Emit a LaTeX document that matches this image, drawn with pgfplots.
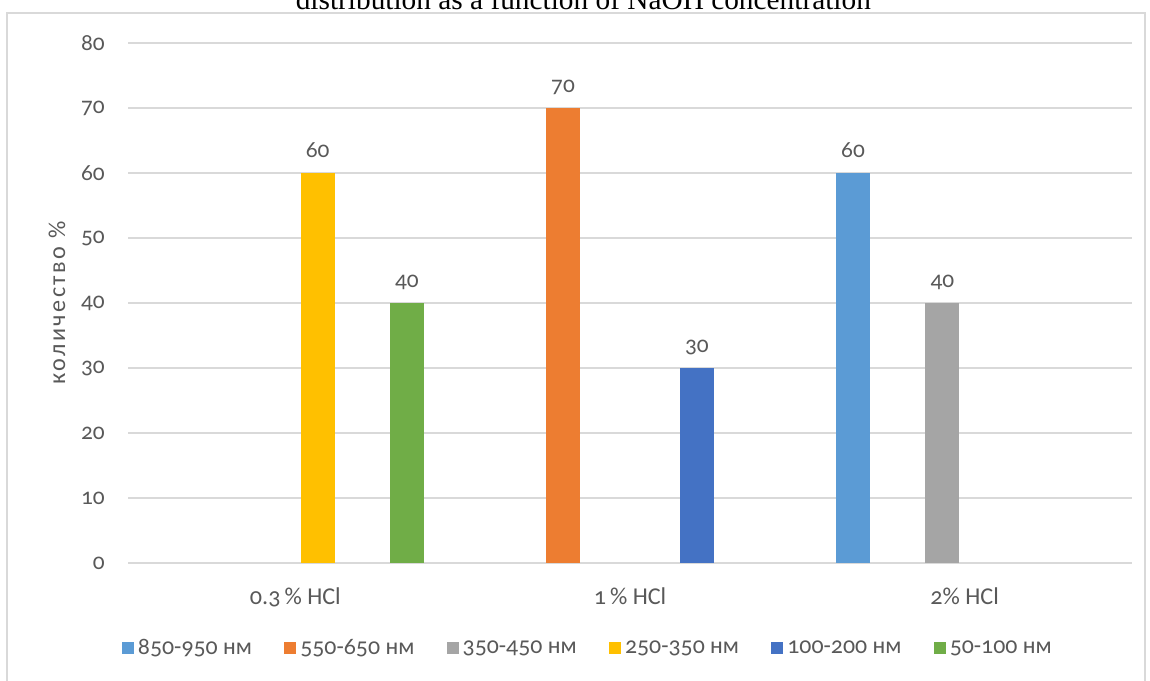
\documentclass[border=0pt]{standalone}
\usepackage{pgfplots}
\pgfplotsset{compat=1.18}
\usepackage{fontspec}
\setmainfont{Carlito}[Numbers=OldStyle]
\newfontfamily\titlefont{Liberation Serif}
\newfontfamily\widefont{Carlito}[Numbers=OldStyle, LetterSpace=10]

\definecolor{cA}{HTML}{5B9BD5}
\definecolor{cB}{HTML}{ED7D31}
\definecolor{cC}{HTML}{A5A5A5}
\definecolor{cD}{HTML}{FFC000}
\definecolor{cE}{HTML}{4472C4}
\definecolor{cF}{HTML}{70AD47}
\definecolor{txt}{HTML}{595959}
\definecolor{gridc}{HTML}{D9D9D9}

\begin{document}
\begin{tikzpicture}
\useasboundingbox (0pt,0pt) rectangle (690pt,408pt);
% chart frame
\draw[gridc, line width=1.2pt] (4pt,-10pt) rectangle (687pt,400.2pt);
% title, partly above the page
\node[anchor=base, font=\titlefont\fontsize{17.6}{20}\selectfont, text=black] at (350pt,402pt)
  {distribution as a function of NaOH concentration};
\begin{axis}[
  at={(76.8pt,70.2pt)}, anchor=south west,
  scale only axis, width=602.4pt, height=312pt,
  ybar, bar width=0.1015,
  xmin=-0.5, xmax=2.5, ymin=0, ymax=80,
  ytick={0,10,...,80},
  xtick={0,1,2},
  xticklabels={0.3\,\% HCl, 1\,\% HCl, 2\% HCl},
  major tick length=0pt,
  axis line style={draw=none},
  ymajorgrids,
  major grid style={gridc, line width=0.9pt},
  /pgf/number format/assume math mode=true,
  yticklabel style={font=\fontsize{14}{16}\selectfont, text=txt, inner sep=0pt, xshift=-13.8pt},
  xticklabel style={font=\fontsize{14.5}{16}\selectfont, text=txt, anchor=base, inner sep=0pt, yshift=-25pt},
  ylabel={количество \%},
  ylabel style={at={(axis description cs:-0.0707,0.5)}, anchor=center, font=\widefont\fontsize{14.5}{16}\selectfont, text=txt},
  nodes near coords,
  every node near coord/.append style={anchor=base, yshift=9.6pt, font=\fontsize{14}{16}\selectfont, text=txt},
  legend columns=6,
  legend style={at={(0.459,-0.1635)}, anchor=center, draw=none, fill=none,
    font=\fontsize{14.3}{16}\selectfont, text=txt,
    /tikz/every even column/.append style={column sep=17pt},
    nodes={inner sep=2.4pt}},
  legend image code/.code={\fill[#1] (0pt,-3.6pt) rectangle (7.2pt,3.6pt);},
]
\addplot[fill=cA, draw=none, bar shift=-0.3335] coordinates {(2,60)};
\addlegendentry{850-950 нм}
\addplot[fill=cB, draw=none, bar shift=-0.2001] coordinates {(1,70)};
\addlegendentry{550-650 нм}
\addplot[fill=cC, draw=none, bar shift=-0.0667] coordinates {(2,40)};
\addlegendentry{350-450 нм}
\addplot[fill=cD, draw=none, bar shift=0.0667] coordinates {(0,60)};
\addlegendentry{250-350 нм}
\addplot[fill=cE, draw=none, bar shift=0.2001] coordinates {(1,30)};
\addlegendentry{100-200 нм}
\addplot[fill=cF, draw=none, bar shift=0.3335] coordinates {(0,40)};
\addlegendentry{50-100 нм}
\end{axis}
\end{tikzpicture}
\end{document}
